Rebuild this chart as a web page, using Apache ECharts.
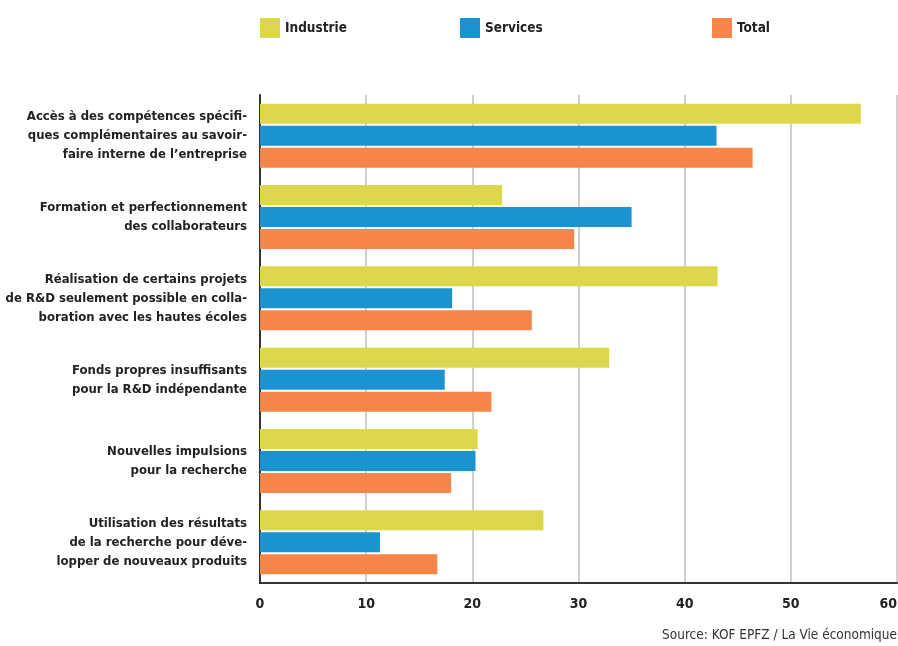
<!DOCTYPE html>
<html>
<head>
<meta charset="utf-8">
<script src="https://cdn.jsdelivr.net/npm/echarts@6/dist/echarts.min.js"></script>
<style>
html,body{margin:0;padding:0;background:#fff;}
#chart{width:898px;height:646px;}
</style>
</head>
<body>
<div id="chart"></div>
<script>
const categories = [
  "Accès à des compétences spécifi-\nques complémentaires au savoir-\nfaire interne de l’entreprise",
  "Formation et perfectionnement\ndes collaborateurs",
  "Réalisation de certains projets\nde R&D seulement possible en colla-\nboration avec les hautes écoles",
  "Fonds propres insuffisants\npour la R&D indépendante",
  "Nouvelles impulsions\npour la recherche",
  "Utilisation des résultats\nde la recherche pour déve-\nlopper de nouveaux produits"
];
const industrie = [56.6, 22.8, 43.1, 32.9, 20.5, 26.7];
const services  = [43.0, 35.0, 18.1, 17.4, 20.3, 11.3];
const total     = [46.4, 29.6, 25.6, 21.8, 18.0, 16.7];
const xTicks = { min: 0, max: 60, interval: 10 };
const sourceText = "Source: KOF EPFZ / La Vie économique";

const FONT = "'Liberation Sans Narrow', 'DejaVu Sans Condensed', 'Roboto Condensed', sans-serif";
const colors = { Industrie: "#dcd74b", Services: "#1a93d0", Total: "#f58549" };

const chart = echarts.init(document.getElementById('chart'), null, { renderer: 'canvas' });
function legendAt(name, left) {
  return {
    data: [name], left: left, top: 13, itemWidth: 20, itemHeight: 20, itemGap: 0,
    icon: 'rect', selectedMode: false,
    textStyle: { fontFamily: FONT, fontWeight: 'bold', fontSize: 13.5, color: '#222' }
  };
}
chart.setOption({
  animation: false,
  backgroundColor: '#fff',
  legend: [legendAt('Industrie', 255), legendAt('Services', 455), legendAt('Total', 707)],
  grid: { left: 260, right: 1, top: 95, bottom: 63, containLabel: false, outerBoundsMode: 'none' },
  xAxis: {
    type: 'value', min: xTicks.min, max: xTicks.max, interval: xTicks.interval,
    axisLine: { show: true, lineStyle: { color: '#333', width: 2 } },
    axisTick: { show: false },
    splitLine: { show: true, lineStyle: { color: '#cfcfcf', width: 2 } },
    axisLabel: { margin: 14, fontFamily: FONT, fontWeight: 'bold', fontSize: 14, color: '#222', alignMaxLabel: 'right' }
  },
  yAxis: {
    type: 'category', data: categories, inverse: true,
    axisLine: { show: true, lineStyle: { color: '#333', width: 2 } },
    axisTick: { show: false },
    axisLabel: { margin: 13, fontFamily: FONT, fontWeight: 'bold', fontSize: 13, color: '#222', lineHeight: 19, align: 'right' }
  },
  graphic: [{
    type: 'text', right: 1, top: 628,
    style: { text: sourceText, fontFamily: FONT, fontSize: 13.5, fill: '#333' }
  }],
  series: [
    { name: 'Industrie', type: 'bar', data: industrie, barWidth: 20, barGap: '10%', itemStyle: { color: colors.Industrie } },
    { name: 'Services', type: 'bar', data: services, barWidth: 20, barGap: '10%', itemStyle: { color: colors.Services } },
    { name: 'Total', type: 'bar', data: total, barWidth: 20, barGap: '10%', itemStyle: { color: colors.Total } }
  ]
});
</script>
</body>
</html>
